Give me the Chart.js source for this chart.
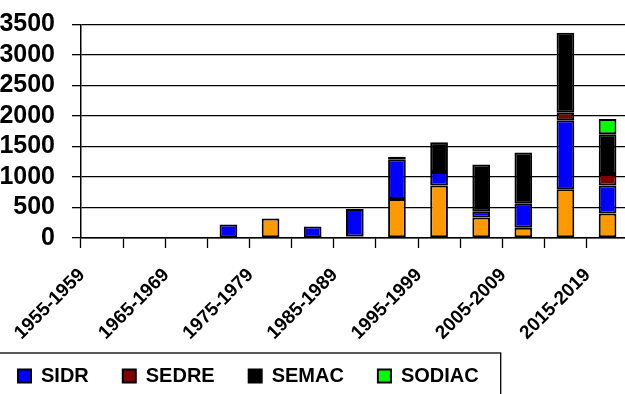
<!DOCTYPE html>
<html>
<head>
<meta charset="utf-8">
<script src="https://cdn.jsdelivr.net/npm/chart.js@4.4.0/dist/chart.umd.min.js"></script>
<style>
  html, body { margin: 0; padding: 0; background: #fff; overflow: hidden; }
  #wrap { position: relative; width: 625px; height: 394px; overflow: hidden; }
  #myChart { position: absolute; left: -40px; top: 0; }
</style>
</head>
<body>
<div id="wrap"><canvas id="myChart" width="680" height="400"></canvas></div>
<script>
const periods = ['1955-1959', '1960-1964', '1965-1969', '1970-1974', '1975-1979', '1980-1984',
  '1985-1989', '1990-1994', '1995-1999', '2000-2004', '2005-2009', '2010-2014', '2015-2019'];

// orange series (its legend entry is cut off in the original)
const orangeValues = [null, null, null, null, 320, null, 25, 640, 860, 335, 170, 800, 400];
const sidrValues   = [null, null, null, 220, null, 190, 450, 650, 220, 95, 390, 1130, 460];
const sedreValues  = [null, null, null, null, null, null, null, null, null, null, null, 125, 190];
const semacValues  = [null, null, null, null, null, null, null, 40, 490, 775, 840, 1310, 650];
const sodiacValues = [null, null, null, null, null, null, null, null, null, null, null, null, 250];

const yTicks = [0, 500, 1000, 1500, 2000, 2500, 3000, 3500];

const font = 'Liberation Sans, Arial, sans-serif';

// let the rotated period labels run below the axis box, like the original
const noLabelClip = {
  id: 'noLabelClip',
  beforeDraw(chart) {
    chart.scales.x._computeLabelArea = () => undefined;
  }
};

const legendFrame = {
  id: 'legendFrame',
  afterDraw(chart) {
    const boxes = chart.legend.legendHitBoxes;
    if (!boxes || !boxes.length) return;
    const last = boxes[boxes.length - 1];
    const mid = boxes[0].top + boxes[0].height / 2;
    const c = chart.ctx;
    c.save();
    c.strokeStyle = '#000';
    c.lineWidth = 1.3;
    c.strokeRect(-5, mid - 23, last.left + last.width + 27, chart.height + 10);
    c.restore();
  }
};

function bars(label, data, color) {
  return {
    label: label,
    data: data,
    backgroundColor: color,
    borderColor: '#000',
    borderWidth: 2,
    borderSkipped: false,
    barPercentage: 0.42,
    categoryPercentage: 1.0
  };
}

const ctx = document.getElementById('myChart');

const myChart = new Chart(ctx, {
  type: 'bar',
  data: {
    labels: periods,
    datasets: [
      bars('', orangeValues, '#FF9900'),
      bars('SIDR', sidrValues, '#0000FF'),
      bars('SEDRE', sedreValues, '#800000'),
      bars('SEMAC', semacValues, '#000000'),
      bars('SODIAC', sodiacValues, '#00FF00')
    ]
  },
  options: {
    responsive: false,
    animation: false,
    devicePixelRatio: 1,
    layout: {
      padding: { left: 24, right: 8, top: 17, bottom: 4 }
    },
    plugins: {
      tooltip: { enabled: false },
      legend: {
        position: 'bottom',
        align: 'start',
        labels: {
          filter: (item) => item.text !== '',
          boxWidth: 13,
          boxHeight: 13,
          padding: 34,
          color: '#000',
          font: { family: font, size: 20, weight: 'bold' }
        }
      }
    },
    scales: {
      x: {
        stacked: true,
        afterFit: (scale) => { scale.height = 94; },
        grid: {
          drawOnChartArea: false,
          drawTicks: true,
          tickLength: 10,
          tickColor: '#000',
          tickWidth: 1.3,
          offset: true
        },
        border: { color: '#000', width: 1.5 },
        ticks: {
          autoSkip: false,
          minRotation: 45,
          maxRotation: 45,
          padding: 16,
          labelOffset: -20,
          color: '#000',
          font: { family: font, size: 19, weight: 'bold' },
          callback: function (value, index) {
            return index % 2 === 0 ? periods[index] : '';
          }
        }
      },
      y: {
        stacked: true,
        min: 0,
        max: 3500,
        afterFit: (scale) => { scale.width = 97; },
        afterBuildTicks: (scale) => { scale.ticks = yTicks.map(v => ({ value: v })); },
        grid: {
          color: '#000',
          lineWidth: 1.3,
          drawTicks: true,
          tickLength: 9,
          tickColor: '#000'
        },
        border: { color: '#000', width: 1.5 },
        ticks: {
          autoSkip: false,
          padding: 17,
          color: '#000',
          font: { family: font, size: 25, weight: 'bold', lineHeight: 0.6 },
          callback: (value) => String(value)
        }
      }
    }
  },
  plugins: [noLabelClip, legendFrame]
});
</script>
</body>
</html>
